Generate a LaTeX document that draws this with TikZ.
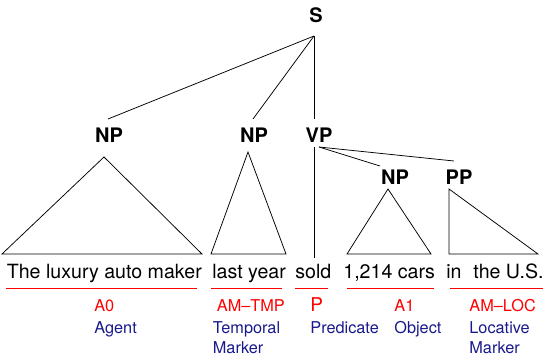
\documentclass[tikz,border=0pt]{standalone}
\usepackage{fontspec}
\setmainfont{TeX Gyre Heros}
\usepackage{tikz}
\usetikzlibrary{positioning, calc}
\definecolor{rolered}{RGB}{255,0,0}
\definecolor{glossblue}{RGB}{25,25,140}

\begin{document}
\begin{tikzpicture}[x=1pt, y=-1pt, line width=0.75pt,
    cat/.style={font=\bfseries\fontsize{20}{24}\selectfont, inner sep=0pt},
    word/.style={font=\fontsize{19.6}{24}\selectfont, inner sep=0pt, anchor=base west},
    role/.style={text=rolered, font=\fontsize{16.3}{19}\selectfont, inner sep=0pt, anchor=base west},
    gloss/.style={text=glossblue, font=\fontsize{16.3}{19}\selectfont, inner sep=0pt, anchor=base west},
    span/.style={draw=rolered, line width=0.65pt}]
    \useasboundingbox (0,0) rectangle (554,356);

    \node[cat] (S) at (316,15) {S};
    \node[cat] (NP1) at (109,135) {NP};
    \node[cat] (NP2) at (254,135) {NP};
    \node[cat] (VP) at (319,135) {VP};
    \node[cat] (NP3) at (395,177) {NP};
    \node[cat] (PP) at (459,177) {PP};

    \foreach \n/\dx in {NP1/-1, NP2/-1, VP/-5}
        \draw ($(S)+(-2,21)$) -- ($(\n)+(\dx,-16)$);
    \draw ($(VP)+(0,12)$) -- ($(NP3)+(-15,-11)$);
    \draw ($(VP)+(0,12)$) -- ($(PP)+(-5,-16)$);
    \draw ($(VP)+(-5,12)$) -- ++(0,111);

    \draw ($(NP1)+(-5,22)$) -- (2,254) -- (202,254) -- cycle;
    \draw ($(NP2)+(-6,17)$) -- (211,254) -- (286,254) -- cycle;
    \draw ($(NP3)+(-7,12)$) -- (347,254) -- (431,254) -- cycle;
    \draw ($(PP)+(-10,12)$) -- (449,254) -- (538,254) -- cycle;

    \node[word] (maker) at (6.5,278) {The luxury auto maker};
    \node[word] (year) at (212,278) {last year};
    \node[word] (sold) at (295,278) {sold};
    \node[word] (cars) at (343,278) {1,214 cars};
    \node[word] (in) at (446,278) {in};
    \node[word] (us) at (473,278) {the U.S.};

    \foreach \a/\b in {6/197, 211/282, 295/328, 347/434, 450/543}
        \draw[span] (\a,288) -- (\b,288);

    \node[role] (a0) at (94,311.7) {A0};
    \node[role] (amtmp) at (216.5,311.7) {AM\textendash TMP};
    \node[role, font=\fontsize{19}{22}\selectfont] (pred) at (310,311) {P};
    \node[role] (a1) at (394,311.7) {A1};
    \node[role] (amloc) at (469,311.7) {AM\textendash LOC};

    \node[gloss] (agent) at (94,333.3) {Agent};
    \node[gloss] (temporal) at (212.5,333.3) {Temporal};
    \node[gloss] (marker1) at (212.5,353.3) {Marker};
    \node[gloss] (predicate) at (310,333.3) {Predicate};
    \node[gloss] (object) at (394,333.3) {Object};
    \node[gloss] (locative) at (469,333.3) {Locative};
    \node[gloss] (marker2) at (469,353.3) {Marker};
\end{tikzpicture}
\end{document}
